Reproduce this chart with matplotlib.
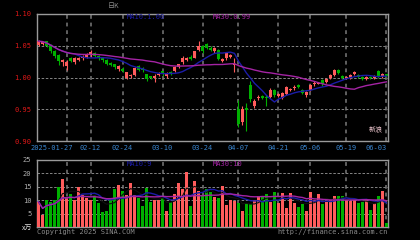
import matplotlib
matplotlib.use("Agg")
import matplotlib.pyplot as plt
import numpy as np
import pandas as pd

dates = ["01-16", "01-17", "01-20", "01-21", "01-22", "01-23", "01-24", "01-27",
         "02-05", "02-06", "02-07", "02-10", "02-11", "02-12", "02-13", "02-14",
         "02-17", "02-18", "02-19", "02-20", "02-21", "02-24", "02-25", "02-26",
         "02-27", "02-28",
         "03-03", "03-04", "03-05", "03-06", "03-07", "03-10", "03-11", "03-12",
         "03-13", "03-14", "03-17", "03-18", "03-19", "03-20", "03-21", "03-24",
         "03-25", "03-26", "03-27", "03-28", "03-31",
         "04-01", "04-02", "04-03", "04-07", "04-08", "04-09", "04-10", "04-11",
         "04-14", "04-15", "04-16", "04-17", "04-18", "04-21", "04-22", "04-23",
         "04-24", "04-25", "04-28", "04-29", "04-30",
         "05-06", "05-07", "05-08", "05-09", "05-12", "05-13", "05-14", "05-15",
         "05-16", "05-19", "05-20", "05-21", "05-22", "05-23", "05-26", "05-27",
         "05-28", "05-29", "05-30", "06-03"]

opens = [1.051, 1.053, 1.057, 1.051, 1.042, 1.036, 1.024, 1.018, 1.031, 1.025,
         1.028, 1.030, 1.032, 1.035, 1.039, 1.034, 1.031, 1.028, 1.023, 1.021,
         1.013, 1.014, 1.000, 1.002, 1.004, 1.018, 1.015, 1.005, 1.002, 0.999,
         1.004, 1.010, 1.003, 1.009, 1.010, 1.017, 1.024, 1.028, 1.033, 1.031,
         1.044, 1.049, 1.052, 1.047, 1.041, 1.044, 1.026, 1.030, 1.033, 1.020,
         0.950, 0.930, 0.952, 0.988, 0.955, 0.968, 0.971, 0.970, 0.970, 0.980,
         0.971, 0.968, 0.974, 0.980, 0.983, 0.988, 0.981, 0.972, 0.980, 0.989,
         0.990, 0.996, 0.993, 1.000, 1.004, 1.012, 1.003, 0.999, 1.000, 1.006,
         1.004, 1.001, 0.998, 1.001, 1.000, 1.010, 1.002, 1.005]
closes = [1.057, 1.056, 1.050, 1.041, 1.034, 1.026, 1.027, 1.025, 1.026, 1.030,
          1.031, 1.033, 1.036, 1.040, 1.034, 1.030, 1.027, 1.022, 1.020, 1.016,
          1.018, 1.010, 1.008, 1.004, 1.015, 1.012, 1.012, 0.997, 1.000, 1.003,
          1.006, 1.005, 1.006, 1.007, 1.017, 1.021, 1.031, 1.030, 1.029, 1.041,
          1.050, 1.041, 1.047, 1.043, 1.046, 1.029, 1.029, 1.038, 1.035, 1.022,
          0.927, 0.951, 0.949, 0.966, 0.963, 0.970, 0.968, 0.967, 0.981, 0.972,
          0.974, 0.975, 0.985, 0.982, 0.985, 0.985, 0.976, 0.977, 0.988, 0.992,
          0.992, 0.989, 0.997, 1.004, 1.012, 1.007, 0.999, 1.001, 1.004, 1.008,
          1.001, 0.998, 1.000, 0.999, 1.002, 1.002, 1.005, 1.003]
highs = [1.059, 1.058, 1.058, 1.053, 1.044, 1.037, 1.029, 1.027, 1.033, 1.032,
         1.033, 1.035, 1.038, 1.043, 1.040, 1.035, 1.032, 1.029, 1.024, 1.022,
         1.020, 1.016, 1.009, 1.006, 1.017, 1.019, 1.016, 1.006, 1.003, 1.006,
         1.008, 1.011, 1.008, 1.010, 1.018, 1.022, 1.034, 1.032, 1.035, 1.042,
         1.058, 1.051, 1.054, 1.049, 1.048, 1.045, 1.031, 1.040, 1.037, 1.030,
         0.965, 0.955, 0.960, 0.995, 0.966, 0.972, 0.973, 0.972, 0.983, 0.982,
         0.976, 0.977, 0.987, 0.984, 0.988, 0.989, 0.982, 0.979, 0.990, 0.994,
         0.993, 0.997, 0.999, 1.006, 1.014, 1.013, 1.004, 1.003, 1.006, 1.011,
         1.005, 1.002, 1.002, 1.003, 1.004, 1.012, 1.007, 1.006]
lows = [1.049, 1.051, 1.048, 1.039, 1.031, 1.020, 1.018, 1.012, 1.024, 1.022,
        1.026, 1.028, 1.030, 1.033, 1.032, 1.028, 1.025, 1.020, 1.018, 1.014,
        1.010, 1.008, 0.998, 1.000, 1.002, 1.010, 1.009, 0.995, 0.998, 0.993,
        1.002, 1.003, 1.000, 1.004, 1.008, 1.015, 1.022, 1.026, 1.027, 1.030,
        1.042, 1.039, 1.045, 1.041, 1.039, 1.027, 1.024, 1.028, 1.031, 1.008,
        0.922, 0.925, 0.916, 0.962, 0.952, 0.965, 0.966, 0.955, 0.968, 0.970,
        0.969, 0.966, 0.972, 0.978, 0.981, 0.983, 0.974, 0.970, 0.978, 0.987,
        0.989, 0.987, 0.991, 0.998, 1.002, 1.005, 0.997, 0.997, 0.998, 1.004,
        0.999, 0.996, 0.996, 0.997, 0.998, 1.000, 1.000, 1.001]
volumes = [9.4, 4.5, 10.0, 9.4, 10.0, 15.0, 18.0, 11.0, 12.5, 10.0,
           15.0, 12.0, 10.7, 10.0, 12.0, 9.0, 5.5, 6.0, 11.0, 14.0,
           15.7, 13.5, 12.0, 16.3, 12.0, 11.0, 8.0, 14.5, 9.4, 10.0,
           10.0, 10.7, 6.0, 9.4, 12.3, 16.3, 14.0, 20.5, 8.0, 17.0,
           13.3, 12.0, 14.0, 13.2, 11.3, 10.7, 15.3, 8.2, 10.1, 9.8,
           9.1, 6.1, 9.1, 8.6, 10.1, 11.6, 11.1, 12.3, 9.5, 13.2,
           9.1, 12.8, 7.0, 12.6, 9.1, 7.3, 8.6, 6.1, 13.2, 10.1,
           12.2, 8.6, 9.5, 10.1, 11.6, 11.6, 11.7, 10.1, 9.8, 10.1,
           8.8, 9.5, 10.1, 6.3, 8.8, 11.6, 13.6, 1.4]

tick_dates = ["01-27", "02-12", "02-24", "03-10", "03-24", "04-07", "04-21",
              "05-06", "05-19", "06-03"]
tick_labels = ["2025-01-27", "02-12", "02-24", "03-10", "03-24", "04-07",
               "04-21", "05-06", "05-19", "06-03"]

W, H = 420, 240
RED = "#ff5c5c"
GREEN = "#00b000"
MA10_C = "#1c1ca8"
MA30_C = "#a424a4"
GRID_C = "#7a7a7a"
MONO = "DejaVu Sans Mono"

o = np.array(opens)
c = np.array(closes)
x = np.arange(len(dates))
cols = np.where(c >= o, RED, GREEN)

fig = plt.figure(figsize=(W / 100, H / 100), dpi=100, facecolor="black")
ax1 = fig.add_axes([37 / W, 1 - 141 / H, 351 / W, 127 / H], facecolor="black")
ax2 = fig.add_axes([37 / W, 1 - 227 / H, 351 / W, 67 / H], facecolor="black")

tick_pos = [dates.index(d) for d in tick_dates]

# price panel
ax1.vlines(x, lows, highs, color=cols, lw=0.8, zorder=3)
ax1.bar(x, np.maximum(np.abs(c - o), 0.0008), bottom=np.minimum(o, c),
        width=0.75, color=cols, zorder=3)
ma10 = pd.Series(closes).rolling(10, min_periods=1).mean()
ma30 = pd.Series(closes).rolling(30, min_periods=1).mean()
ax1.plot(x, ma10, color=MA10_C, lw=1.0, zorder=4)
ax1.plot(x, ma30, color=MA30_C, lw=1.0, zorder=4)
ax1.set_xlim(-0.4, 87.4)
ax1.set_ylim(0.90, 1.10)
yt = [0.90, 0.95, 1.00, 1.05, 1.10]
ax1.set_yticks(yt)
ax1.set_yticklabels([f"{v:.2f}" for v in yt], color="#e01818",
                    fontsize=5, family=MONO)
for v in yt[1:-1]:
    ax1.axhline(v, color="#9a9a9a", lw=0.6, ls=(0, (3, 2)), zorder=1)
for p in tick_pos:
    ax1.axvline(p, color=GRID_C, lw=1.1, ls=(0, (2.5, 2.5)), zorder=1)
ax1.set_xticks([])
ax1.tick_params(length=0, pad=4)

# date labels under the price panel; the first and last are nudged
# so they stay clear of their neighbours and the frame
xform = ax1.get_xaxis_transform()
for i, (p, lab) in enumerate(zip(tick_pos, tick_labels)):
    if i == 0:
        px, ha = p + 1.5, "right"
    elif i == len(tick_pos) - 1:
        px, ha = p, "right"
    else:
        px, ha = p, "center"
    ax1.text(px, -0.055, lab, transform=xform, ha=ha, va="center",
             color="#3a86d0", fontsize=5, family=MONO, clip_on=False)

# volume panel
ax2.bar(x, volumes, width=0.8, color=cols, zorder=3)
vma5 = pd.Series(volumes).rolling(5, min_periods=1).mean()
vma10 = pd.Series(volumes).rolling(10, min_periods=1).mean()
vma30 = pd.Series(volumes).rolling(30, min_periods=1).mean()
ax2.plot(x, vma5, color="#101010", lw=0.8, zorder=4)
ax2.plot(x, vma10, color=MA10_C, lw=1.0, zorder=4)
ax2.plot(x, vma30, color=MA30_C, lw=1.0, zorder=4)
ax2.set_xlim(-0.4, 87.4)
ax2.set_ylim(0, 25)
vt = [5, 10, 15, 20, 25]
ax2.set_yticks(vt)
ax2.set_yticklabels([str(v) for v in vt], color="#b0b0b0", fontsize=5, family=MONO)
for v in vt[:-1]:
    ax2.axhline(v, color="#9a9a9a", lw=0.6, ls=(0, (3, 2)), zorder=1)
for p in tick_pos:
    ax2.axvline(p, color=GRID_C, lw=1.1, ls=(0, (2.5, 2.5)), zorder=1)
ax2.set_xticks([])
ax2.tick_params(length=0, pad=4)

for ax in (ax1, ax2):
    for s in ax.spines.values():
        s.set_color("#9a9a9a")
        s.set_linewidth(1.0)


def ftext(px, py, s, **kw):
    fig.text(px / W, 1 - py / H, s, va="center", **kw)


ftext(127, 17, f"MA10:{ma10.iloc[-1]:.2f}", color=MA10_C, fontsize=5, family=MONO)
ftext(213, 17, f"MA30:{ma30.iloc[-1]:.2f}", color=MA30_C, fontsize=5, family=MONO)
ftext(127, 164, f"MA10:{vma10.iloc[-1]:.0f}", color=MA10_C, fontsize=5, family=MONO)
ftext(213, 164, f"MA30:{vma30.iloc[-1]:.0f}", color=MA30_C, fontsize=5, family=MONO)
ftext(108, 6, "日K", color="#8a8a8a", fontsize=5,
      family=["Noto Sans CJK SC", "DejaVu Sans"])
ftext(22, 228, "x万", color="#e0e0e0", fontsize=5,
      family=["Noto Sans CJK SC", "DejaVu Sans"])
ftext(37, 232, "Copyright 2025 SINA.COM", color="#8a8a8a", fontsize=5, family=MONO)
ftext(388, 232, "http://finance.sina.com.cn", color="#8a8a8a", fontsize=5,
      family=MONO, ha="right")
ftext(376, 130, "新浪", color="#f0c8d0", fontsize=5, ha="center",
      family=["Noto Sans CJK SC", "DejaVu Sans"])

fig.savefig("out.png", dpi=100, facecolor="black")
